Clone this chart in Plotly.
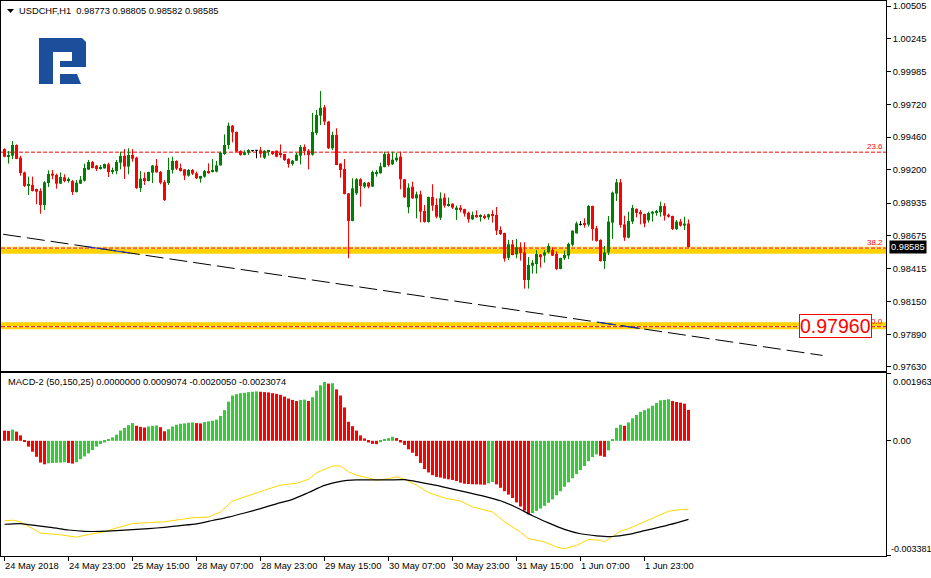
import plotly.graph_objects as go

FONT = "Liberation Sans, Arial, sans-serif"

# ---------------------------------------------------------------- data
symbol_title = "USDCHF,H1"
macd_title = "MACD-2 (50,150,25) 0.0000000 0.0009074 -0.0020050 -0.0023074"

opens = [
    0.99366, 0.99308, 0.99313, 0.99398, 0.99297, 0.99180, 0.99072, 0.99080, 0.99048, 0.99032,
    0.98920, 0.99095, 0.99170, 0.99159, 0.99090, 0.99141, 0.99119, 0.99111, 0.99024, 0.99090,
    0.99114, 0.99202, 0.99263, 0.99234, 0.99210, 0.99212, 0.99244, 0.99186, 0.99191, 0.99257,
    0.99311, 0.99226, 0.99319, 0.99297, 0.99056, 0.99135, 0.99111, 0.99178, 0.99234, 0.99183,
    0.99103, 0.99095, 0.99199, 0.99271, 0.99215, 0.99204, 0.99154, 0.99199, 0.99173, 0.99130,
    0.99146, 0.99191, 0.99183, 0.99186, 0.99236, 0.99326, 0.99398, 0.99552, 0.99502, 0.99350,
    0.99319, 0.99337, 0.99353, 0.99356, 0.99356, 0.99297, 0.99345, 0.99348, 0.99353, 0.99332,
    0.99326, 0.99287, 0.99247, 0.99273, 0.99313, 0.99382, 0.99353, 0.99321, 0.99494, 0.99632,
    0.99698, 0.99584, 0.99372, 0.99478, 0.99250, 0.99207, 0.99013, 0.98793, 0.99013, 0.99125,
    0.99066, 0.99098, 0.99066, 0.99175, 0.99173, 0.99223, 0.99326, 0.99244, 0.99276, 0.99305,
    0.99125, 0.98902, 0.99066, 0.98973, 0.99005, 0.98873, 0.98785, 0.98984, 0.98920, 0.98819,
    0.98979, 0.98915, 0.98931, 0.98888, 0.98899, 0.98888, 0.98859, 0.98806, 0.98841, 0.98827,
    0.98833, 0.98822, 0.98846, 0.98841, 0.98721, 0.98697, 0.98501, 0.98607, 0.98527, 0.98583,
    0.98543, 0.98323, 0.98437, 0.98450, 0.98527, 0.98517, 0.98543, 0.98562, 0.98530, 0.98411,
    0.98496, 0.98517, 0.98604, 0.98695, 0.98766, 0.98769, 0.98764, 0.98912, 0.98735, 0.98642,
    0.98474, 0.98541, 0.98780, 0.99011, 0.99101, 0.98766, 0.98660, 0.98788, 0.98888, 0.98865,
    0.98849, 0.98798, 0.98851, 0.98862, 0.98862, 0.98912, 0.98843, 0.98833, 0.98729, 0.98788,
    0.98756, 0.98773,
]
highs = [
    0.99372, 0.99350, 0.99430, 0.99403, 0.99313, 0.99186, 0.99146, 0.99146, 0.99050, 0.99053,
    0.99111, 0.99196, 0.99199, 0.99170, 0.99180, 0.99165, 0.99141, 0.99119, 0.99119, 0.99151,
    0.99250, 0.99279, 0.99271, 0.99239, 0.99239, 0.99250, 0.99257, 0.99218, 0.99279, 0.99345,
    0.99366, 0.99372, 0.99366, 0.99305, 0.99191, 0.99180, 0.99186, 0.99239, 0.99287, 0.99191,
    0.99119, 0.99297, 0.99305, 0.99276, 0.99250, 0.99207, 0.99207, 0.99207, 0.99186, 0.99153,
    0.99199, 0.99252, 0.99287, 0.99271, 0.99345, 0.99483, 0.99576, 0.99557, 0.99505, 0.99356,
    0.99356, 0.99364, 0.99358, 0.99358, 0.99382, 0.99356, 0.99358, 0.99350, 0.99355, 0.99403,
    0.99328, 0.99292, 0.99279, 0.99337, 0.99398, 0.99403, 0.99366, 0.99653, 0.99677, 0.99828,
    0.99717, 0.99589, 0.99504, 0.99531, 0.99252, 0.99287, 0.99015, 0.99133, 0.99135, 0.99133,
    0.99103, 0.99103, 0.99194, 0.99199, 0.99257, 0.99345, 0.99345, 0.99345, 0.99337, 0.99345,
    0.99127, 0.99093, 0.99106, 0.99027, 0.99034, 0.98920, 0.98986, 0.99085, 0.98973, 0.99021,
    0.99013, 0.98979, 0.98933, 0.98915, 0.98920, 0.98890, 0.98867, 0.98867, 0.98878, 0.98846,
    0.98846, 0.98851, 0.98878, 0.98904, 0.98750, 0.98699, 0.98642, 0.98642, 0.98650, 0.98623,
    0.98623, 0.98506, 0.98482, 0.98562, 0.98530, 0.98562, 0.98615, 0.98583, 0.98551, 0.98500,
    0.98557, 0.98620, 0.98718, 0.98788, 0.98793, 0.98814, 0.98920, 0.98915, 0.98753, 0.98647,
    0.98594, 0.98833, 0.99027, 0.99127, 0.99127, 0.98835, 0.98867, 0.98920, 0.98894, 0.98880,
    0.98851, 0.98867, 0.98873, 0.98880, 0.98947, 0.98934, 0.98851, 0.98835, 0.98801, 0.98809,
    0.98827, 0.98805,
]
lows = [
    0.99300, 0.99250, 0.99287, 0.99285, 0.99154, 0.99064, 0.99000, 0.99028, 0.98926, 0.98851,
    0.98880, 0.99064, 0.99125, 0.99050, 0.99088, 0.99101, 0.99098, 0.99000, 0.99020, 0.99088,
    0.99106, 0.99200, 0.99212, 0.99191, 0.99202, 0.99210, 0.99143, 0.99165, 0.99165, 0.99204,
    0.99127, 0.99165, 0.99265, 0.99048, 0.99024, 0.99080, 0.99109, 0.99095, 0.99178, 0.99085,
    0.98952, 0.99080, 0.99170, 0.99199, 0.99186, 0.99119, 0.99146, 0.99159, 0.99127, 0.99098,
    0.99138, 0.99170, 0.99180, 0.99180, 0.99234, 0.99319, 0.99366, 0.99419, 0.99343, 0.99313,
    0.99317, 0.99319, 0.99345, 0.99292, 0.99297, 0.99287, 0.99313, 0.99319, 0.99300, 0.99297,
    0.99271, 0.99218, 0.99234, 0.99271, 0.99244, 0.99316, 0.99204, 0.99313, 0.99478, 0.99557,
    0.99557, 0.99366, 0.99358, 0.99237, 0.99138, 0.99005, 0.98496, 0.98790, 0.99000, 0.98907,
    0.99053, 0.99053, 0.99064, 0.99146, 0.99170, 0.99220, 0.99226, 0.99239, 0.99265, 0.99045,
    0.98978, 0.98854, 0.98970, 0.98814, 0.98782, 0.98780, 0.98780, 0.98873, 0.98814, 0.98801,
    0.98899, 0.98907, 0.98888, 0.98801, 0.98862, 0.98827, 0.98780, 0.98801, 0.98819, 0.98788,
    0.98806, 0.98803, 0.98780, 0.98681, 0.98681, 0.98469, 0.98482, 0.98520, 0.98496, 0.98477,
    0.98254, 0.98254, 0.98374, 0.98374, 0.98421, 0.98461, 0.98535, 0.98514, 0.98403, 0.98408,
    0.98482, 0.98490, 0.98591, 0.98692, 0.98756, 0.98740, 0.98748, 0.98636, 0.98628, 0.98469,
    0.98411, 0.98522, 0.98650, 0.98952, 0.98740, 0.98634, 0.98655, 0.98769, 0.98822, 0.98766,
    0.98743, 0.98780, 0.98788, 0.98835, 0.98827, 0.98796, 0.98819, 0.98721, 0.98721, 0.98748,
    0.98721, 0.98582,
]
closes = [
    0.99305, 0.99313, 0.99398, 0.99287, 0.99175, 0.99072, 0.99088, 0.99032, 0.99026, 0.98920,
    0.99101, 0.99167, 0.99154, 0.99090, 0.99143, 0.99111, 0.99127, 0.99024, 0.99098, 0.99122,
    0.99215, 0.99263, 0.99215, 0.99207, 0.99223, 0.99247, 0.99183, 0.99199, 0.99263, 0.99311,
    0.99226, 0.99319, 0.99289, 0.99056, 0.99130, 0.99111, 0.99183, 0.99234, 0.99180, 0.99098,
    0.98960, 0.99199, 0.99271, 0.99210, 0.99191, 0.99154, 0.99199, 0.99170, 0.99133, 0.99151,
    0.99191, 0.99173, 0.99199, 0.99236, 0.99337, 0.99398, 0.99552, 0.99499, 0.99345, 0.99319,
    0.99340, 0.99358, 0.99353, 0.99356, 0.99329, 0.99353, 0.99353, 0.99326, 0.99305, 0.99319,
    0.99279, 0.99247, 0.99273, 0.99321, 0.99382, 0.99350, 0.99319, 0.99502, 0.99637, 0.99695,
    0.99584, 0.99372, 0.99478, 0.99239, 0.99199, 0.99008, 0.98793, 0.99053, 0.99125, 0.99072,
    0.99098, 0.99066, 0.99183, 0.99180, 0.99228, 0.99326, 0.99239, 0.99281, 0.99297, 0.99125,
    0.98981, 0.99058, 0.98973, 0.99005, 0.98867, 0.98785, 0.98984, 0.98915, 0.98827, 0.98973,
    0.98915, 0.98928, 0.98899, 0.98899, 0.98886, 0.98851, 0.98806, 0.98841, 0.98822, 0.98833,
    0.98819, 0.98846, 0.98835, 0.98716, 0.98689, 0.98493, 0.98607, 0.98522, 0.98583, 0.98538,
    0.98323, 0.98443, 0.98461, 0.98530, 0.98504, 0.98543, 0.98594, 0.98517, 0.98411, 0.98498,
    0.98522, 0.98610, 0.98716, 0.98774, 0.98766, 0.98764, 0.98912, 0.98729, 0.98634, 0.98474,
    0.98543, 0.98788, 0.99019, 0.99101, 0.98761, 0.98660, 0.98793, 0.98896, 0.98857, 0.98846,
    0.98772, 0.98857, 0.98867, 0.98873, 0.98912, 0.98835, 0.98827, 0.98729, 0.98788, 0.98756,
    0.98772, 0.98585,
]

macd_hist = [
    0.00030, 0.00029, 0.00033, 0.00027, 0.00016, -0.00002, -0.00017, -0.00032, -0.00047, -0.00064,
    -0.00069, -0.00066, -0.00065, -0.000645, -0.00064, -0.00063, -0.00065, -0.00067, -0.00063, -0.00054,
    -0.00046, -0.00037, -0.00027, -0.00017, -0.00010, -0.00005, 0.00004, 0.00010, 0.00018, 0.00030,
    0.00038, 0.00046, 0.00052, 0.00044, 0.00041, 0.00039, 0.00042, 0.00044, 0.00045, 0.00040,
    0.00028, 0.00034, 0.00042, 0.00047, 0.00050, 0.00051, 0.00053, 0.00054, 0.00052, 0.00051,
    0.00055, 0.00057, 0.00059, 0.00062, 0.00073, 0.00090, 0.00115, 0.00133, 0.00137, 0.00140,
    0.00141, 0.00143, 0.00144, 0.00145, 0.00144, 0.00143, 0.00142, 0.00140, 0.00138, 0.00135,
    0.00130, 0.00124, 0.00120, 0.00117, 0.00120, 0.00121, 0.00117, 0.00128, 0.00147, 0.00163,
    0.00173, 0.00168, 0.00169, 0.00151, 0.00133, 0.00098, 0.00056, 0.00043, 0.00030, 0.00016,
    0.00007, -0.00005, -0.00009, -0.00010, -0.00004, 0.00003, 0.00008, 0.00012, 0.00008, -0.00005,
    -0.00012, -0.00025, -0.00035, -0.00045, -0.00065, -0.00083, -0.00093, -0.00101, -0.00106, -0.00108,
    -0.00111, -0.00113, -0.00115, -0.00118, -0.00123, -0.00126, -0.00127, -0.001275, -0.00128, -0.001285,
    -0.00129, -0.00125, -0.00121, -0.00128, -0.00138, -0.00148, -0.00158, -0.00168, -0.00181, -0.00193,
    -0.00205, -0.00216, -0.00212, -0.00206, -0.00199, -0.00191, -0.00182, -0.00172, -0.00160, -0.00148,
    -0.00135, -0.00122, -0.00110, -0.00098, -0.00086, -0.00074, -0.00060, -0.00048, -0.00040, -0.00044,
    -0.00047, -0.00028, 0.00005, 0.00038, 0.00047, 0.00044, 0.00054, 0.00066, 0.00076, 0.00085,
    0.00090, 0.00095, 0.00103, 0.00111, 0.00119, 0.00120, 0.00122, 0.00117, 0.00114, 0.00112,
    0.00109, 0.0009074,
]

macd_main_idx = [0, 2, 4, 6, 9, 14, 18, 21, 25, 28, 32, 36, 40, 44, 47, 51, 54, 57, 61, 65,
                 69, 73, 76, 78, 82, 84, 86, 88, 91, 93, 96, 98, 100, 103, 106, 110, 114, 117,
                 122, 125, 129, 131, 135, 138, 140, 143, 146, 149, 150, 154, 156, 160, 163,
                 166, 169, 171]
macd_main = [-0.00235, -0.00233, -0.00238, -0.00252, -0.00271, -0.00276, -0.00283, -0.00275,
             -0.00267, -0.00256, -0.00243, -0.00240, -0.00238, -0.00231, -0.00226, -0.00224,
             -0.00209, -0.00177, -0.00160, -0.00145, -0.00130, -0.00125, -0.00113, -0.00094,
             -0.00074, -0.00074, -0.00091, -0.00101, -0.00109, -0.00116, -0.00111, -0.00106,
             -0.00113, -0.00130, -0.00152, -0.00168, -0.00177, -0.00194, -0.00209, -0.00238,
             -0.00268, -0.00287, -0.00297, -0.00312, -0.00317, -0.00307, -0.00290, -0.00292,
             -0.00297, -0.00265, -0.00258, -0.00238, -0.00224, -0.00207, -0.00202, -0.0020050]

macd_signal_idx = [0, 4, 8, 12, 16, 20, 24, 28, 32, 36, 40, 44, 48, 52, 56, 60, 64, 68, 72, 76,
                   80, 84, 88, 92, 96, 100, 104, 108, 112, 116, 120, 124, 128, 132, 136, 140,
                   144, 148, 152, 156, 160, 164, 168, 171]
macd_signal = [-0.00245, -0.00243, -0.00249, -0.00255, -0.00262, -0.00266, -0.00266, -0.00264,
               -0.00261, -0.00258, -0.00254, -0.00249, -0.00244, -0.00234, -0.00224, -0.00212,
               -0.00199, -0.00185, -0.00172, -0.00152, -0.00131, -0.00119, -0.00115, -0.00115,
               -0.00115, -0.00114, -0.00122, -0.00131, -0.00142, -0.00152, -0.00163, -0.00176,
               -0.00196, -0.00220, -0.00241, -0.00260, -0.00273, -0.00279, -0.00281, -0.00275,
               -0.00264, -0.00253, -0.00241, -0.0023074]

time_tick_idx = [0, 16, 32, 48, 64, 80, 96, 112, 128, 144, 160]
time_tick_labels = ["24 May 2018", "24 May 23:00", "25 May 15:00", "28 May 07:00", "28 May 23:00",
                    "29 May 15:00", "30 May 07:00", "30 May 23:00", "31 May 15:00", "1 Jun 07:00",
                    "1 Jun 23:00"]

price_ticks = [1.00505, 1.00245, 0.99985, 0.99720, 0.99460, 0.99200, 0.98935, 0.98675,
               0.98415, 0.98150, 0.97890, 0.97630]
macd_max, macd_min = 0.001963, -0.003381

fib_levels = [0.99341, 0.98577, 0.97951]
fib_names = ["23.6", "38.2", "0.0"]
support_levels = [0.98559, 0.97958]
trend_idx = [-0.33, 204.5]
trend_price = [0.98687, 0.97722]
price_label_value = 0.97960
price_label_idx = 218

# ---------------------------------------------------------------- layout geometry
FIG_W, FIG_H = 931, 578
M_L, M_R, M_T, M_B = 1, 45, 1, 22
PLOT_W = FIG_W - M_L - M_R
PLOT_H = FIG_H - M_T - M_B


def pxx(px):
    return (px - M_L) / PLOT_W


def pxy(py):
    return (FIG_H - M_B - py) / PLOT_H


X_RANGE = [-0.875, -0.875 + PLOT_W / 4.0]
PRICE_RANGE = [0.97598, 1.00545]
MACD_RANGE = [-0.003383, 0.001991]
BAND_HALF = 0.00028

GREEN_C = "#008000"
RED_C = "#FF0000"
HIST_UP = "#32CD32"
HIST_DN = "#FF0000"
TXT = 9.3

fig = go.Figure()

# trend line (dashed black), blue where it crosses the yellow bands
fig.add_trace(go.Scatter(x=trend_idx, y=trend_price, mode="lines",
                         line=dict(color="black", width=1, dash="18px,6px"),
                         hoverinfo="skip", showlegend=False, xaxis="x", yaxis="y"))
slope = (trend_price[1] - trend_price[0]) / (trend_idx[1] - trend_idx[0])
for lvl in support_levels:
    t_a = trend_idx[0] + (lvl + BAND_HALF - trend_price[0]) / slope
    t_b = trend_idx[0] + (lvl - BAND_HALF - trend_price[0]) / slope
    fig.add_trace(go.Scatter(x=[t_a, t_b],
                             y=[trend_price[0] + slope * (t_a - trend_idx[0]),
                                trend_price[0] + slope * (t_b - trend_idx[0])],
                             mode="lines", line=dict(color="#1030E0", width=1, dash="18px,6px"),
                             hoverinfo="skip", showlegend=False, xaxis="x", yaxis="y"))

# candles
MIN_BODY = 0.00008
groups = {"up": GREEN_C, "dn": RED_C, "doji": "black"}
wick = {g: ([], []) for g in groups}
body = {g: ([], [], []) for g in groups}
for i, (o, h, l, c) in enumerate(zip(opens, highs, lows, closes)):
    g = "up" if c > o else ("dn" if c < o else "doji")
    wx, wy = wick[g]
    wx += [i, i, None]
    wy += [l, h, None]
    if g == "doji":
        wx += [i - 0.375, i + 0.375, None]
        wy += [o, o, None]
    else:
        bx, bb, bh = body[g]
        bx.append(i)
        bb.append(min(o, c))
        bh.append(max(abs(c - o), MIN_BODY))

for g, col in groups.items():
    wx, wy = wick[g]
    fig.add_trace(go.Scatter(x=wx, y=wy, mode="lines", line=dict(color=col, width=1),
                             hoverinfo="skip", showlegend=False, xaxis="x", yaxis="y"))
for g in ("up", "dn"):
    bx, bb, bh = body[g]
    fig.add_trace(go.Bar(x=bx, y=bh, base=bb, width=0.75, marker=dict(color=groups[g], line=dict(width=0)),
                         hoverinfo="skip", showlegend=False, xaxis="x", yaxis="y"))

# MACD histogram
hist_colors = []
for i, v in enumerate(macd_hist):
    rising = i > 0 and v > macd_hist[i - 1]
    hist_colors.append(HIST_UP if rising else HIST_DN)
fig.add_trace(go.Bar(x=list(range(len(macd_hist))), y=macd_hist, width=0.75,
                     marker=dict(color=hist_colors, line=dict(width=0)),
                     hoverinfo="skip", showlegend=False, xaxis="x2", yaxis="y2"))
fig.add_trace(go.Scatter(x=macd_main_idx, y=macd_main, mode="lines",
                         line=dict(color="#FFD700", width=1),
                         hoverinfo="skip", showlegend=False, xaxis="x2", yaxis="y2"))
fig.add_trace(go.Scatter(x=macd_signal_idx, y=macd_signal, mode="lines",
                         line=dict(color="black", width=1.2, shape="spline", smoothing=0.6),
                         hoverinfo="skip", showlegend=False, xaxis="x2", yaxis="y2"))

# ---------------------------------------------------------------- shapes
shapes = []
for lvl in support_levels:
    shapes.append(dict(type="line", xref="paper", x0=0, x1=1, yref="y", y0=lvl, y1=lvl,
                       line=dict(color="#FFD200", width=7), layer="below"))
for lvl in fib_levels:
    shapes.append(dict(type="line", xref="paper", x0=0, x1=1, yref="y", y0=lvl, y1=lvl,
                       line=dict(color="white", width=1), layer="below"))
    shapes.append(dict(type="line", xref="paper", x0=0, x1=1, yref="y", y0=lvl, y1=lvl,
                       line=dict(color=RED_C, width=1, dash="4px,2px"), layer="below"))

# logo (decorative) in pixel coordinates
logo_polys = [
    [(39, 38), (82, 38), (86, 42), (86, 67), (60, 67), (60, 61), (72, 61), (72, 52),
     (53, 52), (53, 84), (39, 84)],
    [(60, 74), (77, 74), (81, 84), (60, 84)],
]
for poly in logo_polys:
    path = "M " + " L ".join(f"{pxx(x):.5f},{pxy(y):.5f}" for x, y in poly) + " Z"
    shapes.append(dict(type="path", xref="paper", yref="paper", path=path,
                       fillcolor="#1b4f9c", line=dict(width=0), layer="above"))
# small header triangle
tri = [(7, 9), (14, 9), (10.5, 13)]
shapes.append(dict(type="path", xref="paper", yref="paper",
                   path="M " + " L ".join(f"{pxx(x):.5f},{pxy(y):.5f}" for x, y in tri) + " Z",
                   fillcolor="black", line=dict(width=0)))

# ---------------------------------------------------------------- annotations
ann = []
NB = "\u00a0"
ann.append(dict(xref="paper", yref="paper", x=pxx(17), y=pxy(11), xanchor="left", yanchor="middle",
                text=symbol_title + NB + NB + (NB).join(f"{v:.5f}" for v in
                     [opens[-1], highs[-1], lows[-1], closes[-1]]),
                font=dict(family=FONT, size=TXT, color="black"), showarrow=False))
ann.append(dict(xref="paper", yref="paper", x=pxx(6), y=pxy(382), xanchor="left", yanchor="middle",
                text=macd_title.replace(" ", NB), font=dict(family=FONT, size=TXT, color="black"),
                showarrow=False))
for name, lvl in zip(fib_names, fib_levels):
    ann.append(dict(xref="paper", x=1, xanchor="right", xshift=-1, yref="y", y=lvl, yanchor="bottom",
                    yshift=-1, text=name, font=dict(family=FONT, size=8, color=RED_C), showarrow=False))
ann.append(dict(xref="x", x=price_label_idx, xanchor="right", xshift=-5, yref="y", y=price_label_value,
                yanchor="middle", text=f"{price_label_value:.5f}",
                font=dict(family=FONT, size=19.5, color=RED_C), bgcolor="white",
                bordercolor=RED_C, borderwidth=1, borderpad=0, showarrow=False))
ann.append(dict(xref="paper", x=1, xanchor="left", xshift=3, yref="y", y=closes[-1], yanchor="middle",
                text=f"{closes[-1]:.5f}", font=dict(family=FONT, size=TXT, color="white"),
                bgcolor="black", borderpad=1, showarrow=False))
ann.append(dict(xref="paper", x=1, xanchor="left", xshift=5, yref="y2", y=macd_max, yanchor="top",
                yshift=-1, text=f"{macd_max:.6f}", font=dict(family=FONT, size=TXT, color="black"),
                showarrow=False))
ann.append(dict(xref="paper", x=1, xanchor="left", xshift=3, yref="y2", y=macd_min, yanchor="bottom",
                text=f"{macd_min:.6f}", font=dict(family=FONT, size=TXT - 0.3, color="black"),
                showarrow=False))
for ti, tl in zip(time_tick_idx, time_tick_labels):
    ann.append(dict(xref="x2", x=ti, xanchor="left", xshift=-2, yref="paper", y=0, yanchor="top",
                    yshift=-3, text=tl.replace(" ", NB), font=dict(family=FONT, size=TXT, color="black"),
                    showarrow=False))

axis_common = dict(showgrid=False, zeroline=False, showline=True, mirror=True,
                   linecolor="black", linewidth=1)

fig.update_layout(
    width=FIG_W, height=FIG_H,
    margin=dict(l=M_L, r=M_R, t=M_T, b=M_B, pad=0),
    paper_bgcolor="white", plot_bgcolor="white",
    barmode="overlay", showlegend=False, hovermode=False,
    xaxis=dict(domain=[0, 1], range=X_RANGE, anchor="y", showticklabels=False, ticks="",
               **axis_common),
    yaxis=dict(domain=[pxy(371), 1.0], range=PRICE_RANGE, anchor="x", side="right",
               tickvals=price_ticks, ticktext=[f"{v:.5f}" for v in price_ticks],
               ticks="outside", ticklen=4, tickcolor="black",
               tickfont=dict(family=FONT, size=TXT, color="black"), **axis_common),
    xaxis2=dict(domain=[0, 1], range=X_RANGE, anchor="y2", matches="x",
                tickvals=time_tick_idx, ticktext=["" for _ in time_tick_idx], ticks="outside",
                ticklen=4, tickcolor="black", showticklabels=False, **axis_common),
    yaxis2=dict(domain=[0, pxy(373)], range=MACD_RANGE, anchor="x2", side="right",
                tickvals=[macd_max, 0.0, macd_min], ticktext=["", "0.00", ""],
                ticks="outside", ticklen=4, tickcolor="black",
                tickfont=dict(family=FONT, size=TXT, color="black"), **axis_common),
    shapes=shapes,
    annotations=ann,
)

fig.write_html("out.html", config={"displayModeBar": False})
